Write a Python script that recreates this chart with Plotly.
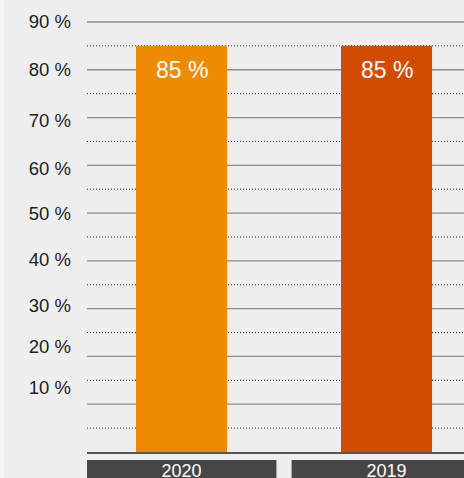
import plotly.graph_objects as go

# ---- data ----
categories = ["2020", "2019"]
values = [85, 85]
bar_colors = ["#EC8B00", "#D14B00"]
value_labels = ["85 %", "85 %"]

tick_labels = ["90 %", "80 %", "70 %", "60 %", "50 %", "40 %", "30 %", "20 %", "10 %"]
tick_positions = [90.2, 80.0, 69.3, 59.4, 49.9, 40.2, 30.6, 22.0, 13.6]
solid_grid = [10, 20, 30, 40, 50, 60, 70, 80, 90]
dotted_grid = [5, 15, 25, 35, 45, 55, 65, 75, 85]

FONT = "Liberation Sans, Arial, Helvetica, sans-serif"
BG = "#EEEEEE"

fig = go.Figure()
fig.add_trace(go.Bar(
    x=list(range(len(categories))),
    y=values,
    marker=dict(color=bar_colors, line=dict(width=0)),
    width=0.444,
    hoverinfo="skip",
))

shapes = []
for g in solid_grid:
    shapes.append(dict(type="line", xref="paper", yref="y", x0=0, x1=1, y0=g, y1=g,
                       line=dict(color="#8C8C8C", width=1.3), layer="below"))
for g in dotted_grid:
    shapes.append(dict(type="line", xref="paper", yref="y", x0=0, x1=1, y0=g, y1=g,
                       line=dict(color="#222222", width=1, dash="1px,2px"), layer="below"))
# category label boxes under the axis
for i, _ in enumerate(categories):
    shapes.append(dict(type="rect", xref="x", yref="paper", x0=i - 0.463, x1=i + 0.463,
                       y0=-8 / 452, y1=-40 / 452, fillcolor="#464646",
                       line=dict(width=0), layer="below"))
# light strip at the very left edge
shapes.append(dict(type="rect", xref="paper", yref="paper", x0=-87 / 377, x1=-83 / 377,
                   y0=-26 / 452, y1=1, fillcolor="#F6F6F6", line=dict(width=0), layer="below"))

annotations = []
for i, (v, t) in enumerate(zip(values, value_labels)):
    annotations.append(dict(x=i, y=v, xref="x", yref="y", text=t, showarrow=False,
                            yanchor="middle", yshift=-24,
                            font=dict(family=FONT, size=23, color="#FFFFFF")))

fig.update_layout(
    template="none",
    width=464, height=478,
    autosize=False,
    margin=dict(l=87, r=0, t=0, b=26, pad=0),
    paper_bgcolor=BG, plot_bgcolor=BG,
    showlegend=False,
    shapes=shapes,
    annotations=annotations,
    xaxis=dict(
        range=[-0.461, 1.378],
        tickmode="array", tickvals=list(range(len(categories))), ticktext=categories,
        tickfont=dict(family=FONT, size=18, color="#FFFFFF"),
        showgrid=False, zeroline=False, automargin=False,
        showline=True, linecolor="#555555", linewidth=2,
        ticks="", ticklabelstandoff=1,
        fixedrange=True,
    ),
    yaxis=dict(
        range=[0, 94.6],
        tickmode="array", tickvals=tick_positions, ticktext=tick_labels,
        tickfont=dict(family=FONT, size=18.5, color="#222222"),
        showgrid=False, zeroline=False, showline=False, automargin=False,
        ticks="", ticklabelstandoff=15,
        fixedrange=True,
    ),
)

fig.write_html("out.html", config={"displayModeBar": False})
